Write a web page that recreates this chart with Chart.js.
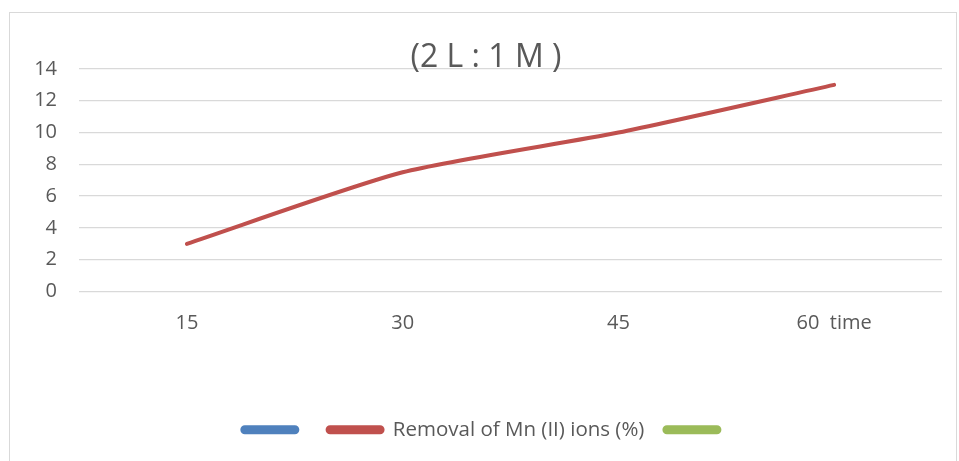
<!DOCTYPE html>
<html>
<head>
<meta charset="utf-8">
<script src="https://cdn.jsdelivr.net/npm/chart.js@4"></script>
<style>
  html, body { margin: 0; padding: 0; background: #fff; }
  #wrap { position: relative; width: 959px; height: 461px; overflow: hidden; }
  #frame { position: absolute; left: 9px; top: 12px; width: 948px; height: 460px;
           border: 1px solid #d9d9d9; box-sizing: border-box; }
  canvas { position: absolute; left: 0; top: 0; }
</style>
</head>
<body>
<div id="wrap">
  <div id="frame"></div>
  <canvas id="c" width="959" height="461"></canvas>
</div>
<script>
// Contact time categories (min) and Mn(II) removal percentages
const timeLabels = ['15', '30', '45', '60  time'];
const removalMn = [3, 7.5, 10, 13];
const emptySeries = [null, null, null, null];
const yTicks = [0, 2, 4, 6, 8, 10, 12, 14];

const textColor = '#595959';
const fontFamily = '"Open Sans", "Liberation Sans", sans-serif';
const padLeft = 30;

new Chart(document.getElementById('c'), {
  type: 'line',
  data: {
    labels: timeLabels,
    datasets: [
      { label: '', data: emptySeries, borderColor: '#4F81BD', backgroundColor: '#4F81BD', borderWidth: 4, pointRadius: 0 },
      { label: 'Removal of Mn (II) ions (%)', data: removalMn, borderColor: '#C0504D', backgroundColor: '#C0504D',
        borderWidth: 4, pointRadius: 0, tension: 0.22, borderCapStyle: 'round', borderJoinStyle: 'round' },
      { label: '', data: emptySeries, borderColor: '#9BBB59', backgroundColor: '#9BBB59', borderWidth: 4, pointRadius: 0 }
    ]
  },
  options: {
    responsive: false,
    animation: false,
    layout: { padding: { left: padLeft, right: 17, top: 0, bottom: 11 } },
    plugins: {
      tooltip: { enabled: false },
      title: {
        display: true,
        text: '(2 L : 1 M )',
        color: textColor,
        font: { family: fontFamily, size: 32, weight: 'normal' },
        padding: { top: 39, bottom: -8.4 }
      },
      legend: {
        position: 'bottom',
        labels: {
          color: textColor,
          font: { family: fontFamily, size: 20.5 },
          boxWidth: 55,
          boxHeight: 5,
          useBorderRadius: true,
          borderRadius: 2.5,
          padding: 20
        }
      }
    },
    scales: {
      x: {
        offset: true,
        grid: { display: false, drawTicks: false },
        border: { display: false },
        ticks: { color: textColor, font: { family: fontFamily, size: 20 }, padding: 20, maxRotation: 0 },
        afterFit(scale) { scale.height = 108; }
      },
      y: {
        min: 0, max: 14,
        afterBuildTicks(scale) { scale.ticks = yTicks.map(v => ({ value: v })); },
        grid: { color: '#d9d9d9', lineWidth: 1.3, drawTicks: false },
        border: { display: false },
        ticks: { color: textColor, font: { family: fontFamily, size: 20 }, padding: 22 },
        afterFit(scale) { scale.width = 79 - padLeft; }
      }
    }
  }
});
</script>
</body>
</html>
